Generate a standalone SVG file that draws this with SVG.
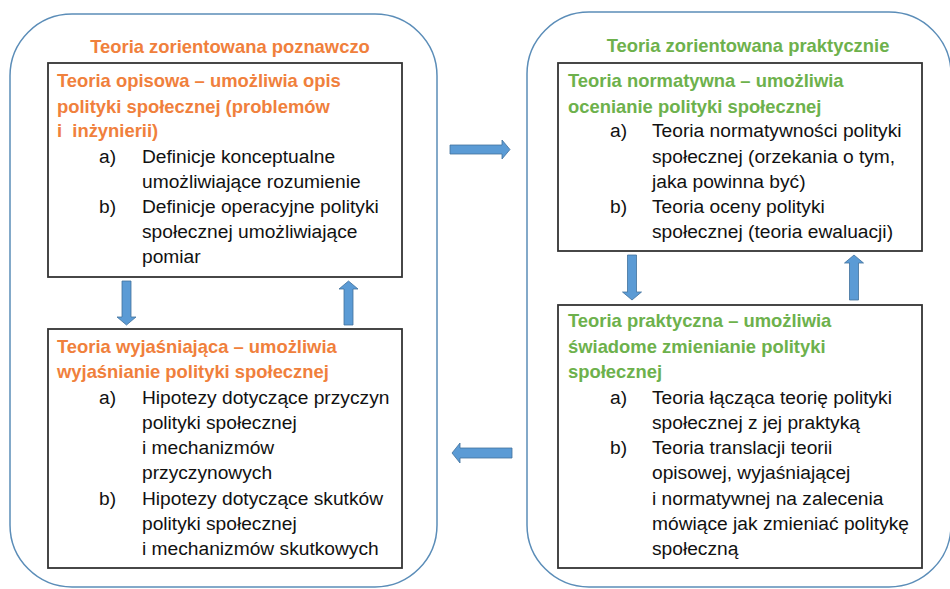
<svg xmlns="http://www.w3.org/2000/svg" width="950" height="589" viewBox="0 0 950 589">
<style>
.cont{fill:none;stroke:#5B8DB8;stroke-width:1.5}
.box{fill:#fff;stroke:#333;stroke-width:1.8}
.t{font-family:"Liberation Sans",Arial,sans-serif;font-size:18.4px}
.h{font-weight:bold}
.or{fill:#F0803C}
.gr{fill:#6DB14C}
.b{fill:#111;font-size:19.2px}
.arr{fill:#5B9BD5;stroke:#41719C;stroke-width:0.8}
</style>
<rect width="950" height="589" fill="#fff"/>
<g id="left-container">
<rect class="cont" x="10" y="14" width="427" height="573" rx="62" ry="62"/>
<text class="t h or" x="230" y="53" text-anchor="middle">Teoria zorientowana poznawczo</text>
</g>
<g id="right-container">
<rect class="cont" x="527" y="12" width="424" height="575" rx="62" ry="62"/>
<text class="t h gr" x="748" y="52" text-anchor="middle">Teoria zorientowana praktycznie</text>
</g>
<g id="opisowa">
<rect class="box" x="48" y="63" width="354" height="214"/>
<text class="t h or" x="57" y="87">Teoria opisowa – umożliwia opis</text>
<text class="t h or" x="57" y="113">polityki społecznej (problemów</text>
<text class="t h or" x="57" y="137">i&#160; inżynierii)</text>
<text class="t b" x="99" y="163">a)</text>
<text class="t b" x="142" y="163">Definicje konceptualne</text>
<text class="t b" x="142" y="188">umożliwiające rozumienie</text>
<text class="t b" x="99" y="213">b)</text>
<text class="t b" x="142" y="213">Definicje operacyjne polityki</text>
<text class="t b" x="142" y="238">społecznej umożliwiające</text>
<text class="t b" x="142" y="263">pomiar</text>
</g>
<g id="wyjasniajaca">
<rect class="box" x="48" y="329" width="354" height="239"/>
<text class="t h or" x="57" y="353">Teoria wyjaśniająca – umożliwia</text>
<text class="t h or" x="57" y="378">wyjaśnianie polityki społecznej</text>
<text class="t b" x="99" y="404">a)</text>
<text class="t b" x="142" y="404">Hipotezy dotyczące przyczyn</text>
<text class="t b" x="142" y="429">polityki społecznej</text>
<text class="t b" x="142" y="454">i mechanizmów</text>
<text class="t b" x="142" y="479">przyczynowych</text>
<text class="t b" x="99" y="505">b)</text>
<text class="t b" x="142" y="505">Hipotezy dotyczące skutków</text>
<text class="t b" x="142" y="530">polityki społecznej</text>
<text class="t b" x="142" y="555">i mechanizmów skutkowych</text>
</g>
<g id="normatywna">
<rect class="box" x="558" y="63" width="364" height="188"/>
<text class="t h gr" x="568" y="87">Teoria normatywna – umożliwia</text>
<text class="t h gr" x="568" y="113">ocenianie polityki społecznej</text>
<text class="t b" x="610" y="137">a)</text>
<text class="t b" x="652" y="137">Teoria normatywności polityki</text>
<text class="t b" x="652" y="163">społecznej (orzekania o tym,</text>
<text class="t b" x="652" y="188">jaka powinna być)</text>
<text class="t b" x="610" y="213">b)</text>
<text class="t b" x="652" y="213">Teoria oceny polityki</text>
<text class="t b" x="652" y="238">społecznej (teoria ewaluacji)</text>
</g>
<g id="praktyczna">
<rect class="box" x="558" y="305" width="364" height="263"/>
<text class="t h gr" x="568" y="327">Teoria praktyczna – umożliwia</text>
<text class="t h gr" x="568" y="353">świadome zmienianie polityki</text>
<text class="t h gr" x="568" y="378">społecznej</text>
<text class="t b" x="610" y="404">a)</text>
<text class="t b" x="652" y="404">Teoria łącząca teorię polityki</text>
<text class="t b" x="652" y="429">społecznej z jej praktyką</text>
<text class="t b" x="610" y="454">b)</text>
<text class="t b" x="652" y="454">Teoria translacji teorii</text>
<text class="t b" x="652" y="479">opisowej, wyjaśniającej</text>
<text class="t b" x="652" y="505">i normatywnej na zalecenia</text>
<text class="t b" x="652" y="530">mówiące jak zmieniać politykę</text>
<text class="t b" x="652" y="555">społeczną</text>
</g>
<g id="connectors">
<path class="arr" d="M450,145 H502 V140 L510,149.5 L502,159 V154 H450 Z"/>
<path class="arr" d="M512,448 H460 V443 L452,453 L460,463 V458 H512 Z"/>
<path class="arr" d="M122,281 V317 H117 L126.5,325 L136,317 H131 V281 Z"/>
<path class="arr" d="M344,325 V289 H339 L348.5,281 L358,289 H353 V325 Z"/>
<path class="arr" d="M627.5,255 V292 H622.5 L632,300 L641.5,292 H636.5 V255 Z"/>
<path class="arr" d="M849.5,300 V263 H844.5 L854,255 L863.5,263 H858.5 V300 Z"/>
</g>
</svg>
